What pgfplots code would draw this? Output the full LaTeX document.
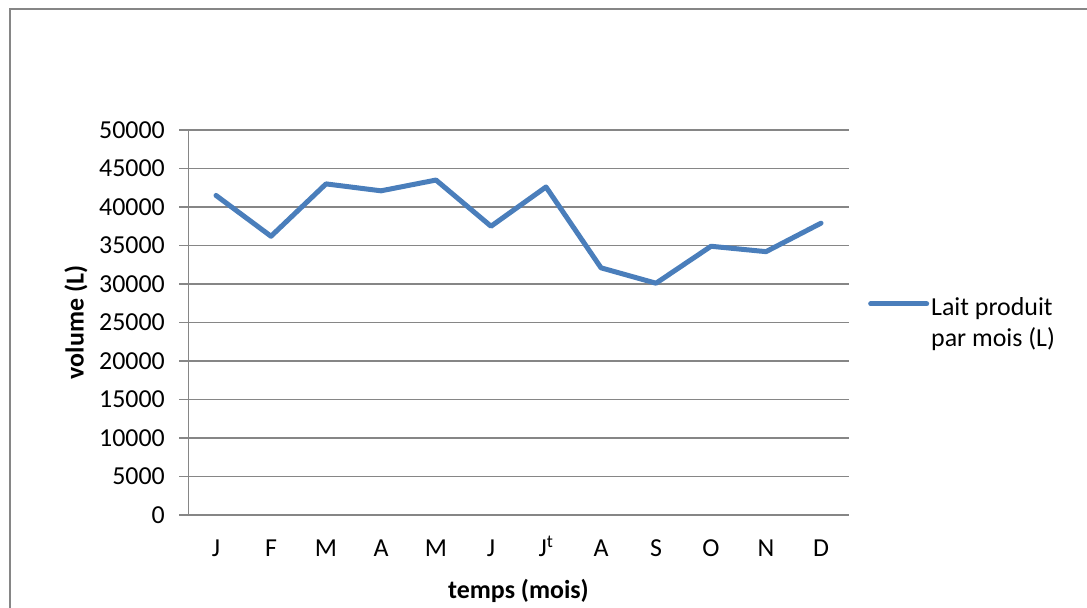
\documentclass[border=0pt]{standalone}
\usepackage{pgfplots}
\pgfplotsset{compat=1.18}
\usepackage{fontspec}
\setmainfont{Carlito}
\definecolor{serie}{HTML}{4A7EBB}
\definecolor{gridc}{HTML}{868686}
\begin{document}
\begin{tikzpicture}[x=1bp,y=1bp]
\useasboundingbox (0,0) rectangle (1087,608);
\draw[gridc, line width=1.2bp] (10,-5) -- (10,599) -- (1095,599);
\begin{axis}[
  at={(188.5bp,93bp)}, anchor=south west,
  scale only axis, width=660bp, height=385bp,
  xmin=-0.5, xmax=11.5, ymin=0, ymax=50000,
  xtick={0,1,2,3,4,5,6,7,8,9,10,11},
  xticklabels={J,F,M,A,M,J,J\textsuperscript{t},A,S,O,N,D},
  ytick={0,5000,10000,15000,20000,25000,30000,35000,40000,45000,50000},
  scaled y ticks=false,
  /pgf/number format/assume math mode=true,
  yticklabel={\pgfmathprintnumber[fixed,1000 sep={}]{\tick}},
  font=\fontsize{26}{31}\selectfont,
  tick label style={font=\fontsize{26}{31}\selectfont},
  axis x line*=bottom, axis y line*=left,
  axis line style={gridc, line width=1.2bp, -},
  major x tick style={draw=none},
  major y tick style={gridc, line width=1.2bp},
  tick align=outside, major tick length=9.5bp,
  ymajorgrids, major grid style={gridc, line width=1.2bp},
  yticklabel style={anchor=east, inner sep=0pt, xshift=-14bp},
  xticklabel style={anchor=base, inner sep=0pt, yshift=-32bp},
  xlabel={\textbf{temps (mois)}},
  ylabel={\textbf{volume (L)}},
  xlabel style={at={(rel axis cs:0.5,-0.197)}, anchor=center, inner sep=0pt},
  ylabel style={at={(rel axis cs:-0.1705,0.5)}, anchor=center, inner sep=0pt},
  legend style={draw=none, fill=none, at={(rel axis cs:1.0295,0.544)}, anchor=west, inner sep=0pt,
    font=\fontsize{26}{31}\selectfont},
  legend cell align=left,
  legend image code/.code={\draw[#1, line cap=round] (0bp,0.17em) -- (56bp,0.17em);},
  clip=false,
]
\addplot[serie, line width=5bp, line join=round, line cap=round] coordinates {
(0,41500) (1,36200) (2,43000) (3,42100) (4,43500) (5,37500)
(6,42600) (7,32100) (8,30100) (9,34900) (10,34200) (11,37900)
};
\addlegendentry{\begin{tabular}[t]{@{}l@{}}Lait produit\\par mois (L)\end{tabular}}
\end{axis}
\end{tikzpicture}
\end{document}
